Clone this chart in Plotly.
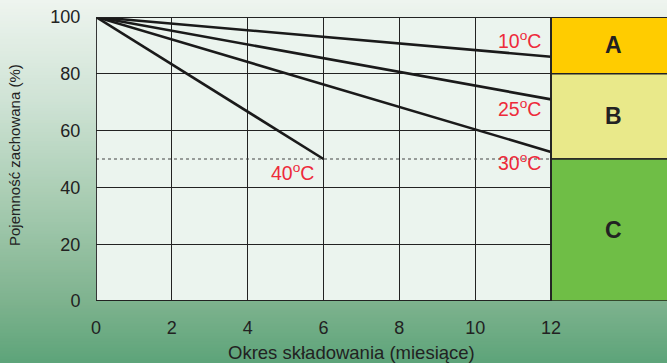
import plotly.graph_objects as go

# Data
months = [0, 12]
cap_10 = [100, 86]
cap_25 = [100, 71]
cap_30 = [100, 52.5]
months_40 = [0, 6]
cap_40 = [100, 50]
series_labels = ["10<sup>o</sup>C", "25<sup>o</sup>C", "30<sup>o</sup>C", "40<sup>o</sup>C"]
x_ticks = [0, 2, 4, 6, 8, 10, 12]
y_ticks = [0, 20, 40, 60, 80, 100]
zones = ["A", "B", "C"]
zone_ranges = [(80, 100), (50, 80), (0, 50)]
zone_colors = ["#ffcc00", "#e9e98a", "#6fbe46"]

W, H = 667, 363
ML, MR, MT, MB = 96, 0, 17, 62
PW = W - ML - MR
PH = H - MT - MB
XMAX = 12 * PW / 455.0
PXU = 455.0 / 12  # pixels per month

fig = go.Figure()

for xs, ys in [(months, cap_10), (months, cap_25), (months, cap_30), (months_40, cap_40)]:
    fig.add_trace(go.Scatter(x=xs, y=ys, mode="lines",
                             line=dict(color="#1a1a1a", width=2.6),
                             showlegend=False, hoverinfo="skip"))

# dotted 50% line
fig.add_trace(go.Scatter(x=[0, 12], y=[50, 50], mode="lines",
                         line=dict(color="#444444", width=1.2, dash="dot"),
                         showlegend=False, hoverinfo="skip"))

shapes = []
# gradient background bands (pixel based -> paper coords)
stops = [(0, (238, 244, 239)), (100, (207, 227, 213)), (200, (168, 204, 178)),
         (300, (127, 179, 143)), (363, (93, 164, 121))]
def col_at(py):
    for (a, ca), (b, cb) in zip(stops[:-1], stops[1:]):
        if a <= py <= b:
            t = (py - a) / (b - a)
            return tuple(int(round(ca[i] + (cb[i] - ca[i]) * t)) for i in range(3))
    return stops[-1][1]
step = 3
for py in range(0, H, step):
    c = col_at(py + step / 2)
    y0 = (H - MB - (py + step)) / PH
    y1 = (H - MB - py) / PH
    shapes.append(dict(type="rect", xref="paper", yref="paper",
                       x0=-ML / PW - 0.01, x1=1.01, y0=y0 - 0.001, y1=y1 + 0.001,
                       fillcolor="rgb(%d,%d,%d)" % c, line=dict(width=0), layer="below"))
# plot area bg
shapes.append(dict(type="rect", xref="x", yref="y", x0=0, x1=12, y0=0, y1=100,
                   fillcolor="#ebf4ee", line=dict(width=0), layer="below"))
# zones
for (lo, hi), c in zip(zone_ranges, zone_colors):
    shapes.append(dict(type="rect", xref="x", yref="y", x0=12, x1=XMAX + 0.2, y0=lo, y1=hi,
                       fillcolor=c, line=dict(color="#222222", width=1.5), layer="above"))
# borders
shapes.append(dict(type="line", xref="x", yref="y", x0=0, x1=XMAX + 0.2, y0=100, y1=100,
                   line=dict(color="#222222", width=1.8), layer="above"))
shapes.append(dict(type="line", xref="x", yref="y", x0=0, x1=12, y0=0, y1=0,
                   line=dict(color="#222222", width=2.2), layer="above"))
shapes.append(dict(type="line", xref="x", yref="y", x0=0, x1=0, y0=0, y1=100,
                   line=dict(color="#222222", width=1.8), layer="above"))
shapes.append(dict(type="line", xref="x", yref="y", x0=12, x1=12, y0=0, y1=100,
                   line=dict(color="#222222", width=1.8), layer="above"))

annotations = []
label_pos = [(12, 86, 92), (12, 71, 68), (12, 52.5, 49), (6, 50, 45.5)]
for lab, (xe, ye, yl) in zip(series_labels, label_pos):
    annotations.append(dict(x=xe - 0.2, y=yl, xref="x", yref="y", text=lab,
                            showarrow=False, xanchor="right", yanchor="middle",
                            font=dict(family="Liberation Sans, Arial", size=19.5, color="#ee2a3a")))
zone_cx = 12 + (613 - 551) / PXU
for z, (lo, hi) in zip(zones, zone_ranges):
    annotations.append(dict(x=zone_cx, y=(lo + hi) / 2, xref="x", yref="y",
                            text="<b>%s</b>" % z, showarrow=False,
                            font=dict(family="Liberation Sans, Arial", size=23, color="#222222")))
# axis titles
annotations.append(dict(x=(351.5 - ML) / PXU, xref="x", y=-(352 - (H - MB)) / PH, yref="paper",
                        text="Okres składowania (miesiące)", showarrow=False,
                        xanchor="center", yanchor="middle",
                        font=dict(family="Liberation Sans, Arial", size=18.5, color="#222222")))
annotations.append(dict(x=-(ML - 14) / PW, xref="paper", y=(301 - 155) / PH, yref="paper",
                        text="Pojemność zachowana (%)", showarrow=False, textangle=-90,
                        xanchor="center", yanchor="middle",
                        font=dict(family="Liberation Sans, Arial", size=15, color="#222222")))

fig.update_layout(
    width=W, height=H,
    margin=dict(l=ML, r=MR, t=MT, b=MB, pad=0, autoexpand=False),
    paper_bgcolor="#eef4ef", plot_bgcolor="rgba(0,0,0,0)",
    shapes=shapes, annotations=annotations,
    font=dict(family="Liberation Sans, Arial", color="#222222"),
    xaxis=dict(range=[0, XMAX], tickvals=x_ticks, ticktext=[str(v) for v in x_ticks],
               showgrid=True, gridcolor="#222222", gridwidth=1.3, zeroline=False,
               showline=False, ticks="outside", ticklen=10, tickcolor="rgba(0,0,0,0)",
               automargin=False,
               tickfont=dict(size=18, color="#222222")),
    yaxis=dict(range=[0, 100], tickvals=y_ticks, showgrid=True, gridcolor="#222222",
               gridwidth=1.3, zeroline=False, showline=False, ticks="outside", ticklen=11,
               tickcolor="rgba(0,0,0,0)", automargin=False,
               tickfont=dict(size=18, color="#222222")),
)
fig.write_html("out.html", config={"displayModeBar": False},
               post_script="document.body.style.margin='0';document.body.style.overflow='hidden';")
